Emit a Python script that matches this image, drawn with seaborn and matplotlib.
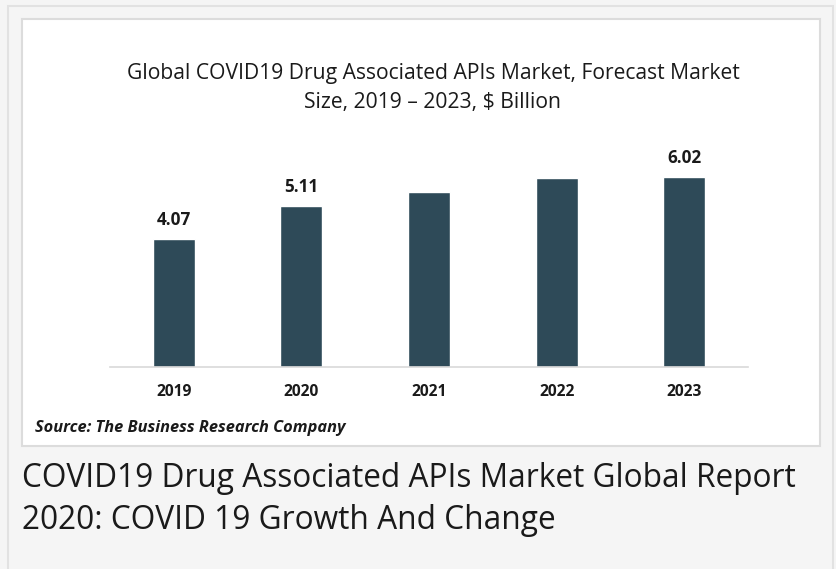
import matplotlib
matplotlib.use("Agg")
import matplotlib.pyplot as plt
import seaborn as sns
import pandas as pd
from matplotlib.patches import Rectangle

years = ["2019", "2020", "2021", "2022", "2023"]
values = [4.07, 5.11, 5.56, 5.98, 6.02]
labels = ["4.07", "5.11", "", "", "6.02"]
title = "Global COVID19 Drug Associated APIs Market, Forecast Market\nSize, 2019 \u2013 2023, $ Billion"
source = "Source: The Business Research Company"
caption = "COVID19 Drug Associated APIs Market Global Report\n2020: COVID 19 Growth And Change"

sns.set_theme(style="white")
plt.rcParams['font.family'] = ['Open Sans', 'DejaVu Sans']

W, H = 836, 569
fig = plt.figure(figsize=(W / 100, H / 100), dpi=100)
fig.patch.set_facecolor("#f5f5f5")

def px(x0, y0, w, h):
    return [x0 / W, 1 - (y0 + h) / H, w / W, h / H]

# outer border
fig.patches.append(Rectangle((7.5 / W, -0.01), (833 - 7.5) / W, 1.01 - 5.5 / H, transform=fig.transFigure,
                             facecolor="none", edgecolor="#e2e2e2", lw=1.5, zorder=-2))
# inner white panel
fig.patches.append(Rectangle((22 / W, 1 - 446 / H), (820 - 22) / W, (446 - 19) / H, transform=fig.transFigure,
                             facecolor="white", edgecolor="#dcdcdc", lw=1.5, zorder=-1))

ax = fig.add_axes(px(110, 140, 638, 227))
ax.set_zorder(2)
ax.set_facecolor("none")
ax.patch.set_alpha(0)
df = pd.DataFrame({"year": years, "value": values})
sns.barplot(data=df, x="year", y="value", color="#2e4a58", width=0.33, saturation=1, ax=ax)
ax.set_xlim(-0.5, 4.5)
ax.set_ylim(0, 7.2)
ax.set_xlabel("")
ax.set_ylabel("")
ax.set_yticks([])
for s in ["top", "right", "left"]:
    ax.spines[s].set_visible(False)
ax.spines["bottom"].set_color("#d9d9d9")
ax.spines["bottom"].set_linewidth(1.2)
ax.tick_params(axis="x", length=0, pad=12)
for t in ax.get_xticklabels():
    t.set_fontweight("bold")
    t.set_fontsize(11.2)
    t.set_color("#1a1a1a")

for i, (v, lab) in enumerate(zip(values, labels)):
    if lab:
        ax.annotate(lab, (i, v), xytext=(0, 7), textcoords="offset points",
                    ha="center", va="bottom", fontsize=12.3, fontweight="bold", color="#1a1a1a")

fig.text(433 / W, 1 - 88 / H, title, ha="center", va="center", fontsize=15.2,
         color="#1a1a1a", linespacing=1.5)
fig.text(35 / W, 1 - 428 / H, source, ha="left", va="center", fontsize=11.8,
         fontweight="bold", fontstyle="italic", color="#1a1a1a")
fig.text(22 / W, 1 - 499.5 / H, caption, ha="left", va="center", fontsize=22.8,
         color="#1a1a1a", linespacing=1.38)

fig.savefig("out.png", dpi=100, facecolor=fig.get_facecolor())
